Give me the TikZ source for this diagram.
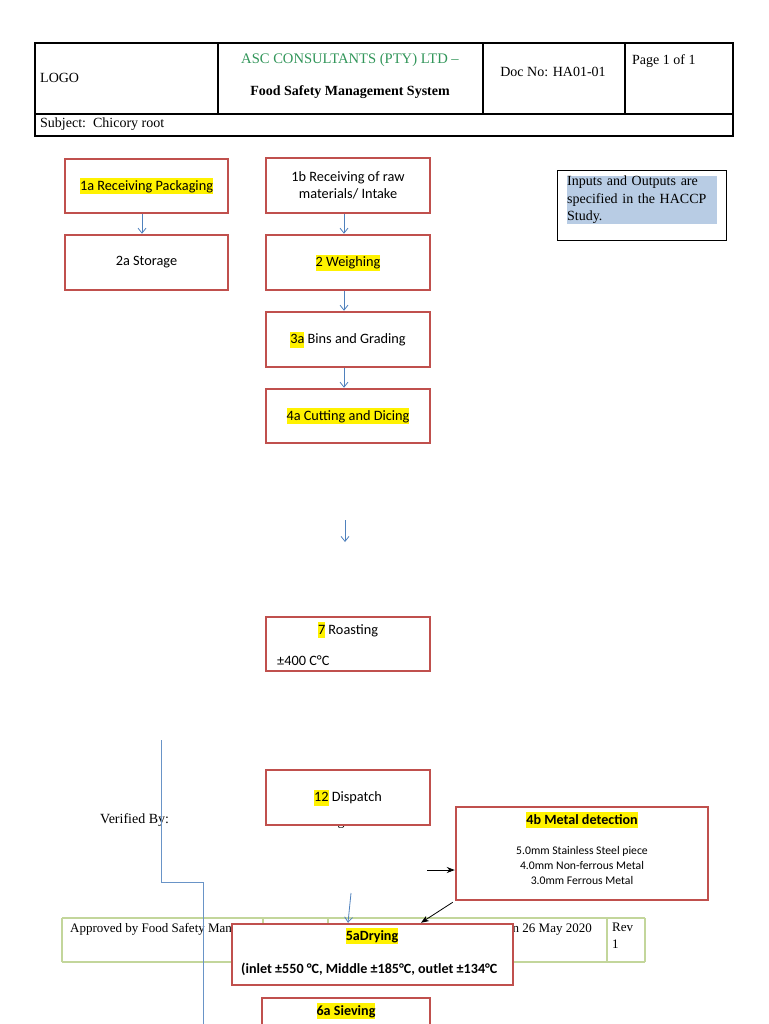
\documentclass[tikz,border=0pt]{standalone}
\usepackage{fontspec}
\setmainfont{Liberation Serif}
\newfontfamily\calfont{Carlito}
\usetikzlibrary{arrows.meta}
\definecolor{boxred}{RGB}{192,80,77}
\definecolor{arrblue}{RGB}{79,129,189}
\definecolor{hlblue}{RGB}{184,204,228}
\definecolor{ascgreen}{RGB}{50,150,90}
\definecolor{footgreen}{RGB}{195,214,155}
\newcommand{\hly}[1]{{\setlength{\fboxsep}{0pt}\colorbox{yellow}{\rule[-3.8pt]{0pt}{16pt}#1}}}
\begin{document}
\begin{tikzpicture}[x=1pt,y=-1pt,
  stepbox/.style={draw=boxred, line width=2.5pt, fill=white, inner sep=0pt, align=center,
    font=\calfont\fontsize{14.3}{17.5}\selectfont},
  boxtxt/.style={inner sep=0pt, align=center, font=\calfont\fontsize{14.3}{17.5}\selectfont},
  boldtxt/.style={inner sep=0pt, align=center, font=\calfont\bfseries\fontsize{14.1}{17.5}\selectfont},
  smalltxt/.style={inner sep=0pt, align=center, font=\calfont\fontsize{11.7}{15}\selectfont},
  hdr/.style={inner sep=0pt, font=\fontsize{14}{17}\selectfont},
  foot/.style={inner sep=0pt, font=\fontsize{13}{16.5}\selectfont},
  hline/.style={draw=black, line width=1.1pt},
  fline/.style={draw=footgreen, line width=1.5pt},
  blu/.style={draw=arrblue, line width=0.8pt, -{Straight Barb[length=5pt,width=8pt]}},
  blk/.style={draw=black, line width=0.8pt, -{Stealth[length=8pt,width=6pt]}}]
\clip (0,0) rectangle (768,1024);
\fill[white] (0,0) rectangle (768,1024);

% header table
\draw[hline] (35,43) rectangle (733,136);
\draw[hline] (35,114) -- (733,114);
\draw[hline] (218,43) -- (218,114);
\draw[hline] (483,43) -- (483,114);
\draw[hline] (625,43) -- (625,114);
\node[hdr, anchor=west] (logo) at (40,78) {LOGO};
\node[hdr, text=ascgreen, font=\fontsize{14.6}{17}\selectfont] (asc) at (350,60) {ASC CONSULTANTS (PTY) LTD –};
\node[hdr, font=\bfseries\fontsize{14}{17}\selectfont] (fsms) at (350,92) {Food Safety Management System};
\node[hdr] (docno) at (553,72) {Doc No: HA01-01};
\node[hdr, anchor=west] (page) at (632,61) {Page 1 of 1};
\node[hdr, anchor=west] (subj) at (40,124) {Subject:\ \ Chicory root};

% info box
\draw[draw=black, line width=1pt] (557,171) rectangle (726,240);
\node[hdr, anchor=north west, fill=hlblue, text width=150pt, align=left,
  font=\fontsize{14}{17.5}\selectfont] (info) at (567,176)
  {Inputs and Outputs are\\specified in the HACCP\\Study.};

% footer table
\draw[fline] (62,918) -- (645,918);
\draw[fline] (62,962) -- (645,962);
\draw[fline] (62,918) -- (62,962);
\draw[fline] (645,918) -- (645,962);
\draw[fline] (263,918) -- (263,962);
\draw[fline] (328,918) -- (328,962);
\draw[fline] (607,918) -- (607,962);
\node[foot, anchor=north west] (appr) at (70,923) {Approved by Food Safety Manager};
\begin{scope}
\clip (513,900) rectangle (605,962);
\node[foot, anchor=north east] (issued) at (592,923) {Issued on 26 May 2020};
\end{scope}
\node[foot, anchor=north west, align=left] (rev) at (612,923) {Rev\\1};

% verified
\node[hdr, anchor=west] (verif) at (100,820) {Verified By:};
\node[hdr, anchor=base] (gchar) at (341,825) {g};

% boxes
\node[stepbox, minimum width=163pt, minimum height=54pt] (b1a) at (146.5,186) {\hly{1a Receiving Packaging}};
\node[stepbox, minimum width=163pt, minimum height=55pt] (b2a) at (146.5,262.5) {2a Storage};
\node[stepbox, minimum width=164pt, minimum height=55pt] (b1b) at (348,185.5) {1b Receiving of raw\\materials/ Intake};
\node[stepbox, minimum width=164pt, minimum height=55pt] (b2) at (348,262.5) {\hly{2 Weighing}};
\node[stepbox, minimum width=164pt, minimum height=55pt] (b3a) at (348,339.5) {\hly{3a} Bins and Grading};
\node[stepbox, minimum width=164pt, minimum height=54pt] (b4a) at (348,416) {\hly{4a Cutting and Dicing}};

\node[stepbox, minimum width=164pt, minimum height=54pt] (b7) at (348,644) {};
\node[boxtxt] (t7) at (348,630) {\hly{7} Roasting};
\node[boxtxt, anchor=west] (t7b) at (277,661) {±400 C°C};

\node[stepbox, minimum width=164pt, minimum height=55pt] (b12) at (348,797.5) {\hly{12} Dispatch};

\node[stepbox, minimum width=252pt, minimum height=93pt] (b4b) at (582,853.5) {};
\node[boldtxt] (t4b) at (582,820) {\hly{4b Metal detection}};
\node[smalltxt] (t4bl) at (582,865) {5.0mm Stainless Steel piece\\4.0mm Non-ferrous Metal\\3.0mm Ferrous Metal};

\node[stepbox, minimum width=281pt, minimum height=61pt] (b5a) at (372.5,954.5) {};
\node[boldtxt] (t5a) at (372,936) {\hly{5aDrying}};
\node[boldtxt, anchor=west] (t5ab) at (241,969) {(inlet ±550 °C, Middle ±185°C, outlet ±134°C};

\node[stepbox, minimum width=168pt, minimum height=60pt] (b6a) at (346,1028) {};
\node[boldtxt] (t6a) at (346,1011) {\hly{6a Sieving}};

% blue arrows
\draw[blu] ([xshift=-4.5pt]b1a.south) -- ([xshift=-4.5pt]b2a.north);
\draw[blu] ([xshift=-4pt]b1b.south) -- ([xshift=-4pt]b2.north);
\draw[blu] ([xshift=-4pt]b2.south) -- ([xshift=-4pt]b3a.north);
\draw[blu] ([xshift=-4pt]b3a.south) -- ([xshift=-4pt]b4a.north);
\coordinate (fa1) at (345,520);
\coordinate (fa2) at (345,542);
\draw[blu] (fa1) -- (fa2);
\coordinate (d1) at (351,893);
\coordinate (d2) at (348,0);
\draw[blu] (d1) -- (d2 |- b5a.north);

% black arrows
\coordinate (m1) at (427,870);
\draw[blk] (m1) -- (m1 -| b4b.west);
\coordinate (m2) at (421,0);
\draw[blk] ([shift={(-2pt,-1pt)}]b4b.south west) -- (m2 |- b5a.north);

% blue line
\coordinate (l1) at (161,740);
\coordinate (l2) at (161,882);
\coordinate (l3) at (203,882);
\coordinate (l4) at (203,1030);
\draw[arrblue!85, line width=1pt] (l1) -- (l2) -- (l3) -- (l4);
\end{tikzpicture}
\end{document}
